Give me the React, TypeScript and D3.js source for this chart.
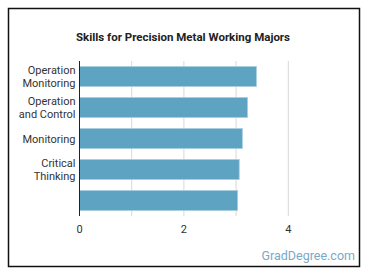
import React from "react";
import * as d3 from "d3";

const categories = ["Operation Monitoring", "Operation and Control", "Monitoring", "Critical Thinking", ""];
const labelLines = [["Operation", "Monitoring"], ["Operation", "and Control"], ["Monitoring"], ["Critical", "Thinking"], [""]];
const values = [3.39, 3.22, 3.12, 3.06, 3.03];
const gridTicks = [0, 1, 2, 3, 4];
const labelTicks = [0, 2, 4];
const title = "Skills for Precision Metal Working Majors";

export default function App() {
  const W = 370, H = 278;
  const left = 79.5, top = 61, bottom = 216;
  const x = d3.scaleLinear().domain([0, 1]).range([left, left + 52.2]);
  const y = d3.scaleBand<string>().domain(categories.map((c, i) => String(i))).range([top, bottom]).paddingInner(0.35).paddingOuter(0.175);
  const font = "Roboto, 'Open Sans', sans-serif";
  return (
    <svg width={W} height={H} style={{ position: "absolute", left: 0, top: 0 }}>
      <rect x={0} y={0} width={W} height={H} fill="#fff" />
      <rect x={8.5} y={8.5} width={351} height={258} fill="#fff" stroke="#111" strokeWidth={1.5} />
      <text x={183} y={41} textAnchor="middle" fontFamily={font} fontWeight="bold" fontSize={11.5} fill="#222">{title}</text>
      {gridTicks.map((t) => (
        <line key={t} x1={x(t)} x2={x(t)} y1={top} y2={bottom} stroke="#d8d8d8" strokeWidth={1} />
      ))}
      {values.map((v, i) => (
        <rect key={i} x={x(0)} y={y(String(i))!} width={x(v) - x(0)} height={y.bandwidth()} fill="#5ea3c1" stroke="#a9d0e0" strokeWidth={0.8} />
      ))}
      <line x1={x(0)} x2={x(0)} y1={top} y2={bottom} stroke="#222" strokeWidth={1} />
      {labelLines.map((lines, i) => {
        const cy = y(String(i))! + y.bandwidth() / 2;
        const lh = 13.5;
        return (
          <text key={i} textAnchor="end" fontFamily={font} fontSize={11} fill="#333">
            {lines.map((l, j) => (
              <tspan key={j} x={x(0) - 4} y={cy - ((lines.length - 1) * lh) / 2 + j * lh + 4}>{l}</tspan>
            ))}
          </text>
        );
      })}
      {labelTicks.map((t) => (
        <text key={t} x={x(t)} y={233} textAnchor="middle" fontFamily={font} fontSize={11} fill="#333">{t}</text>
      ))}
      <text x={355} y={260} textAnchor="end" fontFamily={font} fontSize={12.5} fill="#79a9c6">GradDegree.com</text>
    </svg>
  );
}
